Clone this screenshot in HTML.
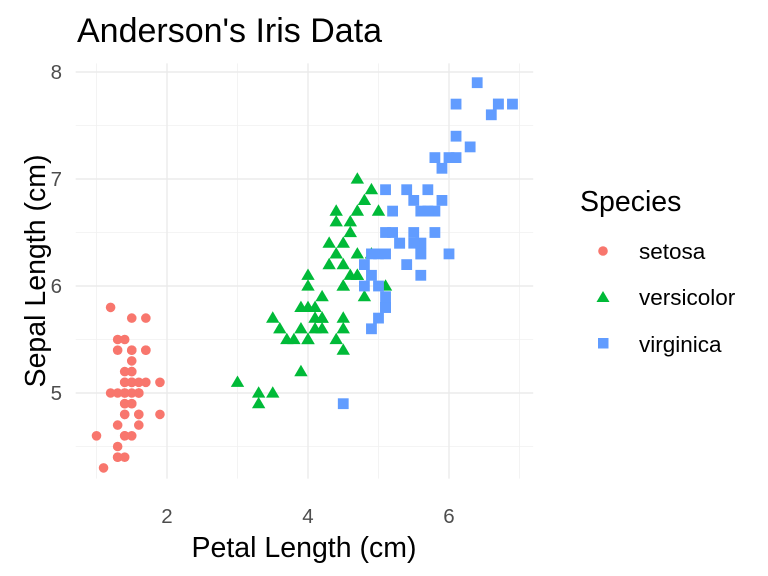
<!DOCTYPE html>
<html><head><meta charset="utf-8"><style>
html,body{margin:0;padding:0;background:#fff}
svg{display:block;font-family:"Liberation Sans",Arial,sans-serif}
</style></head><body>
<svg id="s" width="768" height="576" viewBox="0 0 768 576" xmlns="http://www.w3.org/2000/svg">
<rect width="768" height="576" fill="#fff"/>
<g id="grid"></g>
<g id="pts"></g>
<text x="77" y="42" font-size="34" fill="#000">Anderson's Iris Data</text>
<g font-size="20.5" fill="#4D4D4D" text-anchor="end">
<text x="62" y="79">8</text><text x="62" y="186">7</text><text x="62" y="293">6</text><text x="62" y="400">5</text>
</g>
<g font-size="20.5" fill="#4D4D4D" text-anchor="middle">
<text x="167" y="523">2</text><text x="308" y="523">4</text><text x="449" y="523">6</text>
</g>
<text x="304" y="557" font-size="28.5" text-anchor="middle" fill="#000">Petal Length (cm)</text>
<text transform="translate(45,271) rotate(-90)" font-size="28.5" text-anchor="middle" fill="#000">Sepal Length (cm)</text>
<text x="580" y="211" font-size="28.5" fill="#000">Species</text>
<circle cx="603" cy="251" r="4.8" fill="#F8766D"/>
<polygon points="596.5,302 609.5,302 603,291" fill="#00BA38"/>
<rect x="598" y="338" width="10.5" height="10.5" fill="#619CFF"/>
<g font-size="22.5" fill="#000">
<text x="639" y="259">setosa</text><text x="639" y="305">versicolor</text><text x="639" y="352">virginica</text>
</g>
</svg>
<script>
var X=function(v){return 167+(v-2)*70.5},Y=function(v){return 72+(8-v)*107};
var g=document.getElementById('grid'),h='';
var x0=75.7,x1=533.2,y0=63.4,y1=478.6;
[1,3,5,7].forEach(function(v){h+='<line x1="'+X(v)+'" x2="'+X(v)+'" y1="'+y0+'" y2="'+y1+'" stroke="#F0F0F0" stroke-width="0.8"/>'});
[4.5,5.5,6.5,7.5].forEach(function(v){h+='<line y1="'+Y(v)+'" y2="'+Y(v)+'" x1="'+x0+'" x2="'+x1+'" stroke="#F0F0F0" stroke-width="0.8"/>'});
[2,4,6].forEach(function(v){h+='<line x1="'+X(v)+'" x2="'+X(v)+'" y1="'+y0+'" y2="'+y1+'" stroke="#EBEBEB" stroke-width="1.4"/>'});
[5,6,7,8].forEach(function(v){h+='<line y1="'+Y(v)+'" y2="'+Y(v)+'" x1="'+x0+'" x2="'+x1+'" stroke="#EBEBEB" stroke-width="1.4"/>'});
g.innerHTML=h;
var se=[5.1,1.4,4.9,1.4,4.7,1.3,4.6,1.5,5.0,1.4,5.4,1.7,4.6,1.4,5.0,1.5,4.4,1.4,4.9,1.5,5.4,1.5,4.8,1.6,4.8,1.4,4.3,1.1,5.8,1.2,5.7,1.5,5.4,1.3,5.1,1.4,5.7,1.7,5.1,1.5,5.4,1.7,5.1,1.5,4.6,1.0,5.1,1.7,4.8,1.9,5.0,1.6,5.0,1.6,5.2,1.5,5.2,1.4,4.7,1.6,4.8,1.6,5.4,1.5,5.2,1.5,5.5,1.4,4.9,1.5,5.0,1.2,5.5,1.3,4.9,1.4,4.4,1.3,5.1,1.5,5.0,1.3,4.5,1.3,4.4,1.3,5.0,1.6,5.1,1.9,4.8,1.4,5.1,1.6,4.6,1.4,5.3,1.5,5.0,1.4];
var ve=[7.0,4.7,6.4,4.5,6.9,4.9,5.5,4.0,6.5,4.6,5.7,4.5,6.3,4.7,4.9,3.3,6.6,4.6,5.2,3.9,5.0,3.5,5.9,4.2,6.0,4.0,6.1,4.7,5.6,3.6,6.7,4.4,5.6,4.5,5.8,4.1,6.2,4.5,5.6,3.9,5.9,4.8,6.1,4.0,6.3,4.9,6.1,4.7,6.4,4.3,6.6,4.4,6.8,4.8,6.7,5.0,6.0,4.5,5.7,3.5,5.5,3.8,5.5,3.7,5.8,3.9,6.0,5.1,5.4,4.5,6.0,4.5,6.7,4.7,6.3,4.4,5.6,4.1,5.5,4.0,5.5,4.4,6.1,4.6,5.8,4.0,5.0,3.3,5.6,4.2,5.7,4.2,5.7,4.2,6.2,4.3,5.1,3.0,5.7,4.1];
var vi=[6.3,6.0,5.8,5.1,7.1,5.9,6.3,5.6,6.5,5.8,7.6,6.6,4.9,4.5,7.3,6.3,6.7,5.8,7.2,6.1,6.5,5.1,6.4,5.3,6.8,5.5,5.7,5.0,5.8,5.1,6.4,5.3,6.5,5.5,7.7,6.7,7.7,6.9,6.0,5.0,6.9,5.7,5.6,4.9,7.7,6.7,6.3,4.9,6.7,5.7,7.2,6.0,6.2,4.8,6.1,4.9,6.4,5.6,7.2,5.8,7.4,6.1,7.9,6.4,6.4,5.6,6.3,5.1,6.1,5.6,7.7,6.1,6.3,5.6,6.4,5.5,6.0,4.8,6.9,5.4,6.7,5.6,6.9,5.1,5.8,5.1,6.8,5.9,6.7,5.7,6.7,5.2,6.3,5.0,6.5,5.2,6.2,5.4,5.9,5.1];
var p='',i,x,y;
for(i=0;i<se.length;i+=2){x=X(se[i+1]);y=Y(se[i]);p+='<circle cx="'+x+'" cy="'+y+'" r="4.8" fill="#F8766D"/>'}
for(i=0;i<ve.length;i+=2){x=X(ve[i+1]);y=Y(ve[i]);p+='<polygon points="'+(x-6.7)+','+(y+4.6)+' '+(x+6.7)+','+(y+4.6)+' '+x+','+(y-6.8)+'" fill="#00BA38"/>'}
for(i=0;i<vi.length;i+=2){x=X(vi[i+1]);y=Y(vi[i]);p+='<rect x="'+(x-5.4)+'" y="'+(y-5.4)+'" width="10.8" height="10.8" fill="#619CFF"/>'}
document.getElementById('pts').innerHTML=p;
</script>
</body></html>
